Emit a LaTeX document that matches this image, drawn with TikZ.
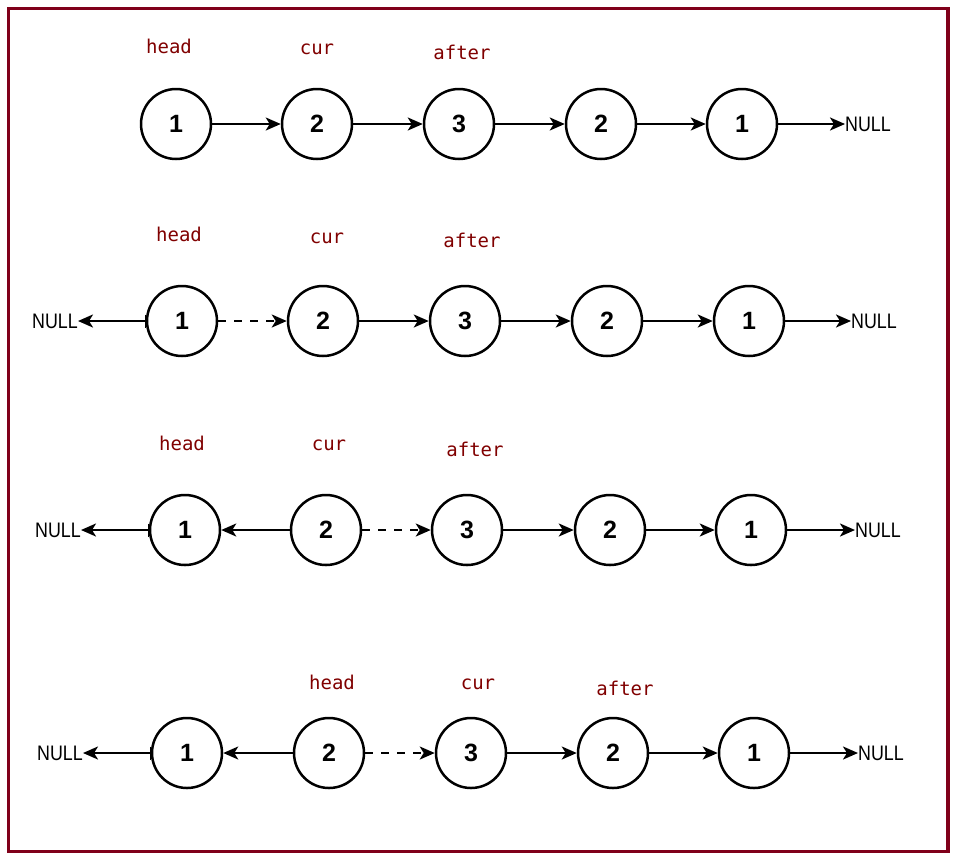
\documentclass[tikz,border=0pt]{standalone}
\usepackage{fontspec}
\setmainfont{Liberation Sans}
\newfontfamily\labfont{DejaVu Sans Mono}
\usetikzlibrary{arrows.meta}
\definecolor{frame}{RGB}{128,0,26}
\definecolor{lab}{RGB}{128,0,0}
\tikzset{
  lnode/.style={circle,draw,line width=2.5pt,minimum size=70pt,inner sep=0pt,font=\fontsize{25}{25}\selectfont\bfseries},
  nulltxt/.style={inner sep=0pt,font=\fontsize{21}{21}\selectfont},
  ptr/.style={lab,inner sep=0pt,anchor=base,font=\fontsize{19}{19}\labfont},
  link/.style={line width=2.4pt,-{Stealth[length=15pt,width=13pt,inset=4pt]}},
  dlink/.style={link,dash pattern=on 8pt off 8pt},
  nlink/.style={line width=2.4pt,{Bar[width=13pt,line width=1.2pt]}-{Stealth[length=15pt,width=13pt,inset=4pt]}}
}
\newcommand{\nulltext}{\scalebox{0.85}[1]{NULL}}
\begin{document}
\begin{tikzpicture}[x=1pt,y=-1pt]
\useasboundingbox (0,0) rectangle (957,860);
\draw[frame,line width=3.5pt] (8.5,8.5) rectangle (948,851.5);

% Row 1
\node[lnode] (a1) at (176,124) {1};
\node[lnode] (a2) at (317,124) {2};
\node[lnode] (a3) at (459,124) {3};
\node[lnode] (a4) at (601,124) {2};
\node[lnode] (a5) at (742,124) {1};
\node[nulltxt,anchor=west] (aR) at (845,124) {\nulltext};
\draw[link] (a1) -- (a2);
\draw[link] (a2) -- (a3);
\draw[link] (a3) -- (a4);
\draw[link] (a4) -- (a5);
\draw[link] (a5) -- (aR);
\node[ptr] (ah) at (169,53) {head};
\node[ptr] (ac) at (317,54) {cur};
\node[ptr] (aa) at (462,59) {after};

% Row 2
\node[lnode] (b1) at (182,321) {1};
\node[lnode] (b2) at (323,321) {2};
\node[lnode] (b3) at (465,321) {3};
\node[lnode] (b4) at (607,321) {2};
\node[lnode] (b5) at (749,321) {1};
\node[nulltxt,anchor=east] (bL) at (78,321) {\nulltext};
\node[nulltxt,anchor=west] (bR) at (851,321) {\nulltext};
\draw[nlink] (b1) -- (bL);
\draw[dlink] (b1) -- (b2);
\draw[link] (b2) -- (b3);
\draw[link] (b3) -- (b4);
\draw[link] (b4) -- (b5);
\draw[link] (b5) -- (bR);
\node[ptr] (bh) at (179,241) {head};
\node[ptr] (bc) at (327,243) {cur};
\node[ptr] (ba) at (472,247) {after};

% Row 3
\node[lnode] (c1) at (185,530) {1};
\node[lnode] (c2) at (326,530) {2};
\node[lnode] (c3) at (467,530) {3};
\node[lnode] (c4) at (610,530) {2};
\node[lnode] (c5) at (751,530) {1};
\node[nulltxt,anchor=east] (cL) at (81,530) {\nulltext};
\node[nulltxt,anchor=west] (cR) at (855,530) {\nulltext};
\draw[nlink] (c1) -- (cL);
\draw[link] (c2) -- (c1);
\draw[dlink] (c2) -- (c3);
\draw[link] (c3) -- (c4);
\draw[link] (c4) -- (c5);
\draw[link] (c5) -- (cR);
\node[ptr] (ch) at (182,450) {head};
\node[ptr] (cc) at (329,450) {cur};
\node[ptr] (ca) at (475,456) {after};

% Row 4
\node[lnode] (d1) at (187,753) {1};
\node[lnode] (d2) at (329,753) {2};
\node[lnode] (d3) at (471,753) {3};
\node[lnode] (d4) at (613,753) {2};
\node[lnode] (d5) at (754,753) {1};
\node[nulltxt,anchor=east] (dL) at (83,753) {\nulltext};
\node[nulltxt,anchor=west] (dR) at (858,753) {\nulltext};
\draw[nlink] (d1) -- (dL);
\draw[link] (d2) -- (d1);
\draw[dlink] (d2) -- (d3);
\draw[link] (d3) -- (d4);
\draw[link] (d4) -- (d5);
\draw[link] (d5) -- (dR);
\node[ptr] (dh) at (332,689) {head};
\node[ptr] (dc) at (478,689) {cur};
\node[ptr] (da) at (625,695) {after};
\end{tikzpicture}
\end{document}
